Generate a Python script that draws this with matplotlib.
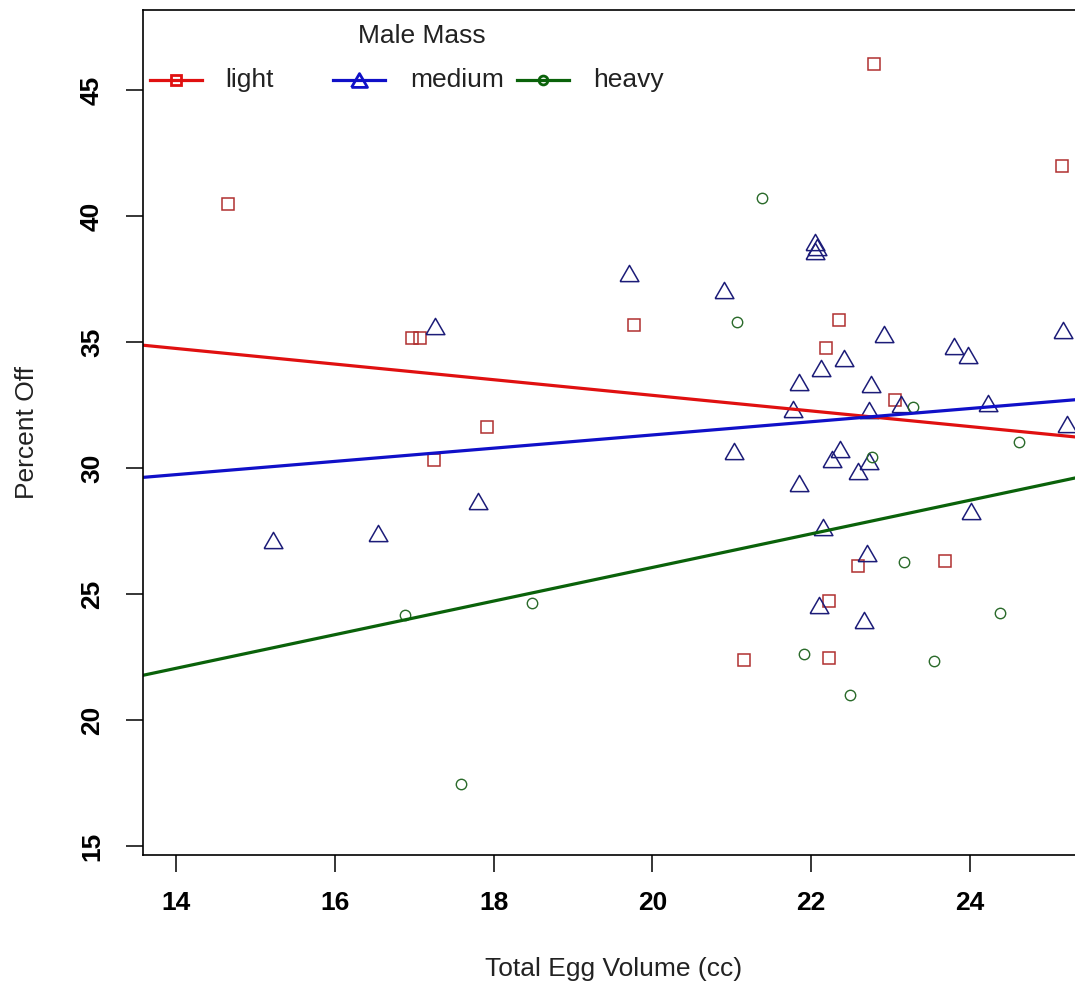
import matplotlib
matplotlib.use("Agg")
import matplotlib.pyplot as plt
from matplotlib.lines import Line2D

plt.rcParams['font.family'] = ['Liberation Sans', 'DejaVu Sans']

# light males (squares)
light_x = [14.65, 16.97, 17.07, 17.25, 17.92, 19.77, 22.19, 22.35, 22.79, 23.06,
           25.16, 22.59, 23.69, 22.22, 21.15, 22.22]
light_y = [40.48, 35.14, 35.14, 30.32, 31.63, 35.67, 34.76, 35.87, 46.03, 32.70,
           41.98, 26.11, 26.31, 24.72, 22.38, 22.46]

# medium males (triangles)
medium_x = [15.22, 16.54, 17.26, 17.80, 19.71, 20.90, 21.03, 22.05, 22.07, 22.05,
            21.85, 21.77, 22.12, 22.41, 22.92, 21.85, 22.15, 22.26, 22.36, 22.59,
            22.73, 22.75, 22.73, 22.70, 22.10, 22.66, 23.13, 23.80, 23.97, 24.23,
            24.01, 25.17, 25.22]
medium_y = [27.14, 27.42, 35.63, 28.69, 37.74, 37.06, 30.67, 38.95, 38.78, 38.62,
            33.41, 32.34, 33.97, 34.37, 35.32, 29.40, 27.66, 30.36, 30.75, 29.88,
            30.28, 33.33, 32.30, 26.63, 24.56, 23.97, 32.54, 34.84, 34.48, 32.58,
            28.29, 35.48, 31.75]

# heavy males (circles)
heavy_x = [16.88, 17.59, 18.48, 21.07, 21.38, 21.91, 22.49, 22.77, 23.17, 23.28,
           23.55, 24.38, 24.62]
heavy_y = [24.17, 17.46, 24.64, 35.79, 40.71, 22.62, 20.99, 30.44, 26.27, 32.42,
           22.34, 24.25, 31.03]

# fitted lines (intercept, slope)
groups = ['light', 'medium', 'heavy']
intercepts = [39.08, 26.06, 12.71]
slopes = [-0.310, 0.2624, 0.667]

W, H = 1075, 989
fig = plt.figure(figsize=(W / 100, H / 100), dpi=100)

# plot box in pixels: left 143, right 1085 (outside the picture), top 9.5, bottom 855
ax = fig.add_axes([143 / W, 1 - 855 / H, (1085 - 143) / W, (855 - 9.5) / H])
ax.set_xlim(13.584, 25.448)
ax.set_ylim(14.64, 48.19)

tri = [(-1, -0.866), (1, -0.866), (0, 0.866), (-1, -0.866)]
pt_cols = ['#b03030', '#1c1c78', '#2a6a2a']
line_cols = ['#e01010', '#1010c8', '#0a620a']
markers = ['s', tri, 'o']
sizes = [9, 13.5, 7.5]

ax.plot(light_x, light_y, ls='none', marker='s', ms=9, mfc='none',
        mec=pt_cols[0], mew=1.1)
ax.plot(medium_x, medium_y, ls='none', marker=tri, ms=13.5, mfc='none',
        mec=pt_cols[1], mew=1.1)
ax.plot(heavy_x, heavy_y, ls='none', marker='o', ms=7.5, mfc='none',
        mec=pt_cols[2], mew=1.0)

for b, m, c in zip(intercepts, slopes, line_cols):
    ax.axline((0, b), slope=m, color=c, lw=2.3)

ax.set_xticks([14, 16, 18, 20, 22, 24])
ax.set_yticks([15, 20, 25, 30, 35, 40, 45])
ax.tick_params(axis='both', direction='out', length=12, width=1.1,
               labelsize=19, colors='black')
ax.tick_params(axis='x', pad=14)
ax.tick_params(axis='y', pad=16, labelrotation=90)
for lab in ax.get_yticklabels():
    lab.set_va('center')
for lab in ax.get_xticklabels() + ax.get_yticklabels():
    lab.set_fontweight('bold')
for s in ax.spines.values():
    s.set_linewidth(1.2)

ax.set_xlabel('Total Egg Volume (cc)', fontsize=19, color='#222222')
ax.set_ylabel('Percent Off', fontsize=19, color='#222222')
ax.xaxis.set_label_coords(0.5, -0.121)
ax.yaxis.set_label_coords(-0.110, 0.5)

# legend drawn by hand (R style horizontal legend)
fx = lambda p: p / W
fy = lambda p: 1 - p / H
fig.text(fx(422), fy(36), 'Male Mass', fontsize=19, color='#222222',
         ha='center', va='center')
hx = [150, 333, 517]
tx = [225, 410, 593]
for i, g in enumerate(groups):
    fig.add_artist(Line2D([fx(hx[i]), fx(hx[i] + 26), fx(hx[i] + 52)],
                          [fy(80)] * 3, transform=fig.transFigure,
                          color=line_cols[i], lw=2.3, marker=markers[i],
                          markevery=[1], ms=sizes[i] * 0.85, mfc='none',
                          mec=line_cols[i], mew=2))
    fig.text(fx(tx[i]), fy(80), g, fontsize=19, color='#222222',
             ha='left', va='center')

fig.savefig('out.png', dpi=100)
